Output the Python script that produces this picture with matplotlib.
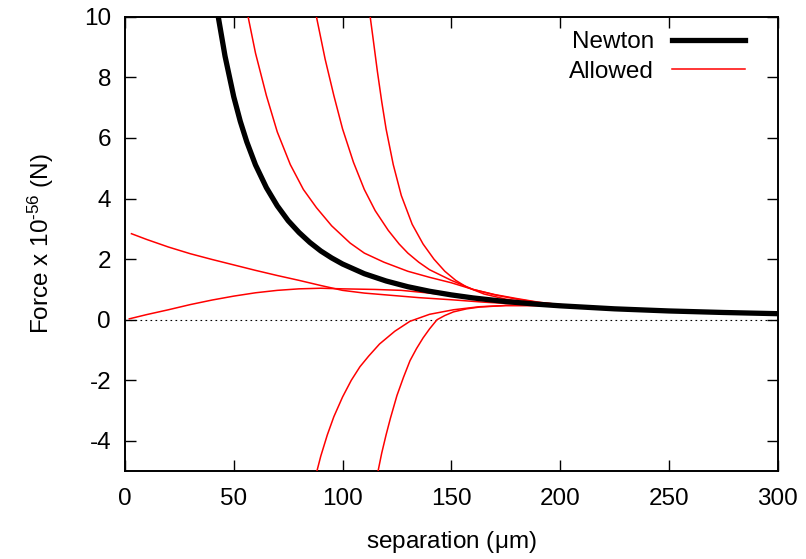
import matplotlib
matplotlib.use('Agg')
import matplotlib.pyplot as plt

plt.rcParams['font.family'] = ['Liberation Sans', 'DejaVu Sans']
plt.rcParams['mathtext.fontset'] = 'custom'
plt.rcParams['mathtext.rm'] = 'Liberation Sans'
plt.rcParams['mathtext.it'] = 'Liberation Sans'
plt.rcParams['axes.unicode_minus'] = False

# separation (um) and force (x 1e-56 N)
newton_x = [43, 46, 50, 53, 56, 60, 65, 70, 75, 80, 85, 90, 95, 100, 110, 120, 130,
            140, 150, 160, 175, 190, 200, 225, 250, 275, 300]
newton_y = [9.95, 8.7, 7.36, 6.55, 5.87, 5.11, 4.36, 3.76, 3.27, 2.88, 2.55, 2.27,
            2.04, 1.84, 1.52, 1.28, 1.09, 0.94, 0.82, 0.72, 0.60, 0.51, 0.46, 0.36,
            0.29, 0.24, 0.20]

# allowed curves
a_x = [3, 10, 20, 30, 40, 50, 60, 70, 80, 90, 100, 110, 120, 135, 150, 165, 180, 200, 225]
a_y = [2.84, 2.65, 2.40, 2.18, 1.99, 1.81, 1.63, 1.46, 1.30, 1.13, 0.97, 0.88, 0.82,
       0.73, 0.66, 0.58, 0.52, 0.46, 0.36]

b_x = [2, 10, 20, 30, 40, 50, 60, 70, 80, 90, 100, 115, 127, 140, 150, 165, 180, 200, 225]
b_y = [0.03, 0.17, 0.33, 0.50, 0.65, 0.78, 0.89, 0.97, 1.02, 1.04, 1.02, 1.00, 0.97,
       0.88, 0.80, 0.68, 0.58, 0.47, 0.36]

c_x = [56.6, 60, 65, 70, 76, 82, 88, 95, 103.5, 110, 119, 130, 140, 150, 160, 170,
       180, 190, 200, 225]
c_y = [10, 8.8, 7.4, 6.2, 5.12, 4.3, 3.7, 3.1, 2.53, 2.2, 1.9, 1.6, 1.4, 1.22,
       1.0, 0.83, 0.7, 0.58, 0.5, 0.37]

d_x = [88, 92, 96, 100, 105, 110, 115, 121, 126, 130, 135, 140, 150, 160, 170, 180,
       190, 200, 225]
d_y = [10, 8.6, 7.4, 6.3, 5.2, 4.3, 3.6, 2.95, 2.5, 2.2, 1.9, 1.65, 1.3, 1.0, 0.82,
       0.68, 0.57, 0.5, 0.37]

e_x = [112.7, 114, 116, 118, 120, 123.3, 127, 132, 137, 142, 147, 152, 157, 165,
       175, 185, 200, 225]
e_y = [10, 9.3, 8.2, 7.2, 6.3, 5.12, 4.1, 3.15, 2.5, 2.0, 1.6, 1.3, 1.08, 0.85,
       0.68, 0.57, 0.48, 0.37]

f_x = [88.2, 90, 93, 96, 100, 104, 108, 112, 117, 124, 131, 140, 151, 163, 175,
       190, 200, 225]
f_y = [-5, -4.5, -3.8, -3.2, -2.55, -2.0, -1.55, -1.2, -0.8, -0.38, -0.05, 0.18,
       0.33, 0.43, 0.47, 0.47, 0.45, 0.36]

g_x = [116.3, 118, 120, 122, 125, 128, 131, 134, 137, 140, 143.4, 147, 151, 157,
       163, 175, 190, 200, 225]
g_y = [-5, -4.4, -3.8, -3.25, -2.5, -1.9, -1.35, -0.95, -0.6, -0.3, 0, 0.14, 0.26,
       0.36, 0.42, 0.47, 0.47, 0.45, 0.36]

allowed = [(a_x, a_y), (b_x, b_y), (c_x, c_y), (d_x, d_y), (e_x, e_y), (f_x, f_y), (g_x, g_y)]

fig = plt.figure(figsize=(8.06, 5.59), dpi=100)
ax = fig.add_axes([0.155, 0.157, 0.81, 0.813])

ax.axhline(0, color='black', lw=0.8, ls=(0, (1.5, 3)), zorder=1)
ax.plot(newton_x, newton_y, color='black', lw=3.8, label='Newton', zorder=4)
for i, (xs, ys) in enumerate(allowed):
    ax.plot(xs, ys, color='red', lw=1.1, zorder=3, label='Allowed' if i == 0 else None)

ax.set_xlim(0, 300)
ax.set_ylim(-5, 10)
ax.set_xticks([0, 50, 100, 150, 200, 250, 300])
ax.set_yticks([-4, -2, 0, 2, 4, 6, 8, 10])
ax.tick_params(direction='in', length=8, width=1, top=True, right=True,
               labelsize=17.5, pad=10)
ax.tick_params(axis='x', pad=12)
for s in ax.spines.values():
    s.set_linewidth(1.4)

ax.set_xlabel('separation ($\\mu$m)', fontsize=17.5, labelpad=14)
ax.set_ylabel('Force x 10$^{\\text{-}56}$ (N)', fontsize=17.5, labelpad=20)

ax.legend(loc='upper right', frameon=False, markerfirst=False, fontsize=17.5,
          handlelength=3.0, handletextpad=0.75, labelspacing=0.3,
          borderaxespad=0.2, bbox_to_anchor=(0.972, 1.0))

fig.savefig('out.png', dpi=100)
